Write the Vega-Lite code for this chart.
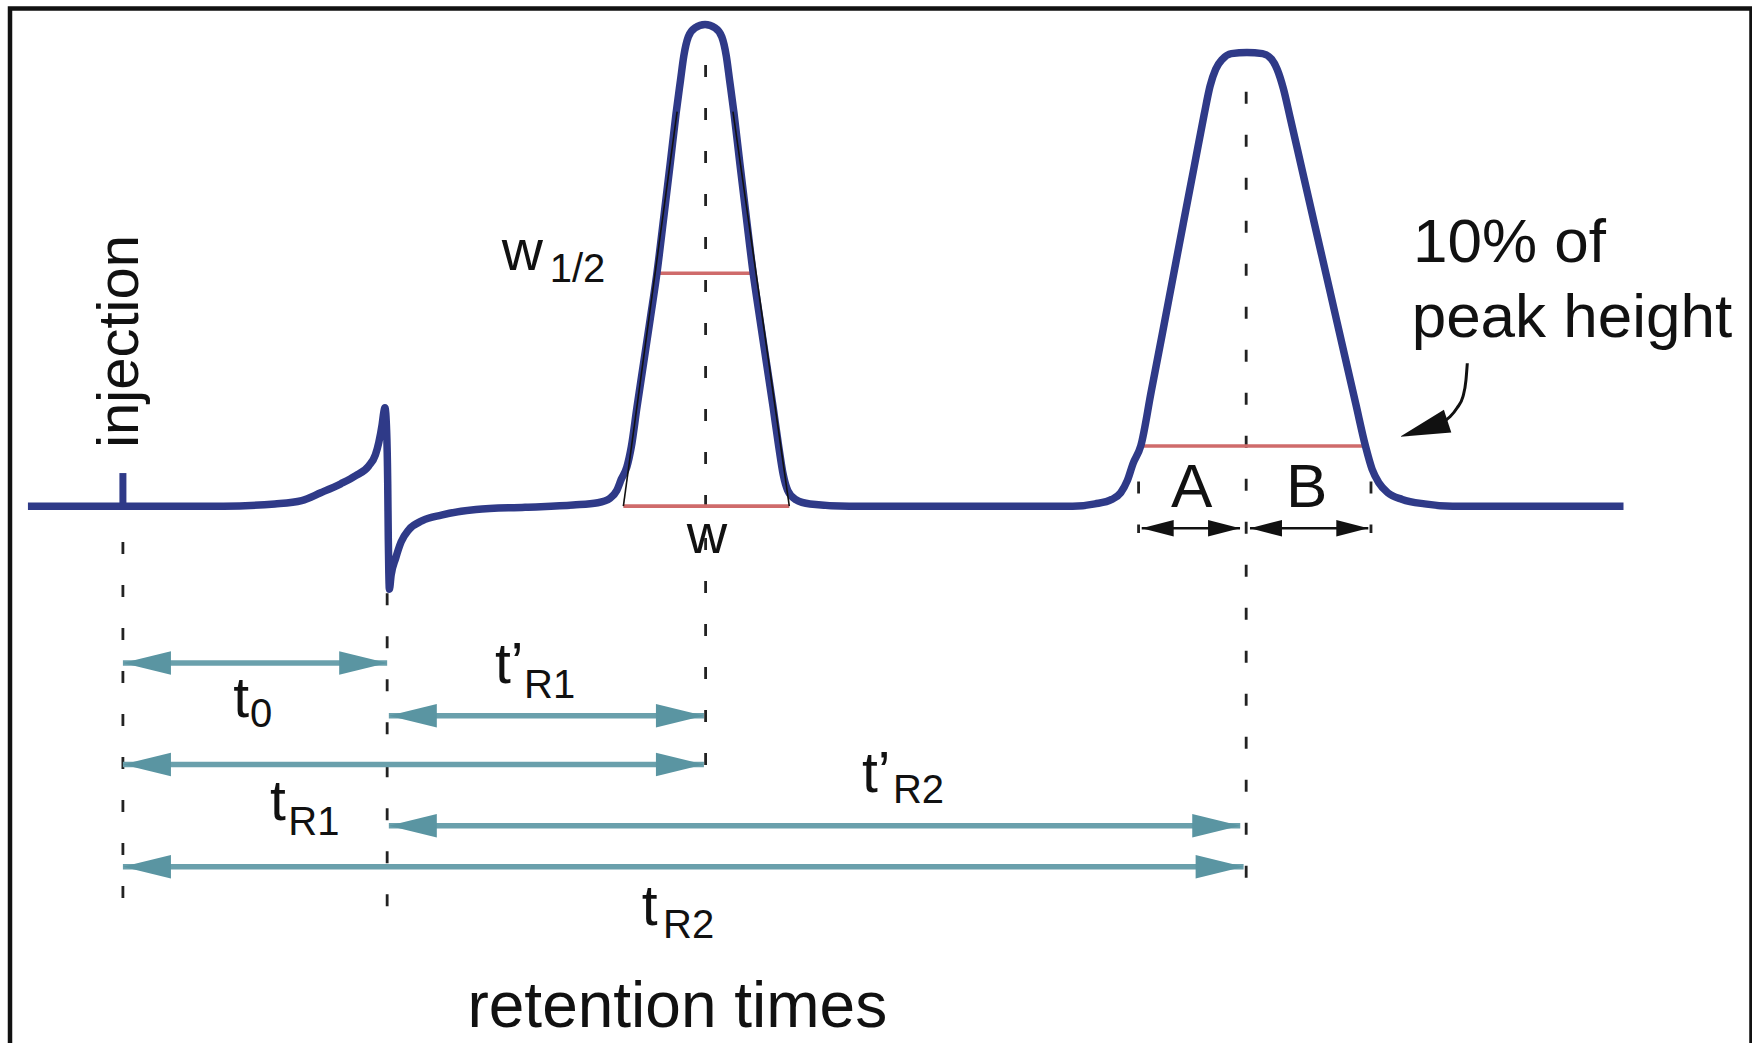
{
  "$schema": "https://vega.github.io/schema/vega-lite/v6.json",
  "width": 1752,
  "height": 1043,
  "autosize": {"type": "fit", "contains": "padding"},
  "padding": 0,
  "background": "white",
  "config": {"view": {"stroke": null}, "text": {"font": "Liberation Sans", "color": "#111111"}},
  "datasets": {
    "frame": [{"t1": -1.0105, "t2": 14.5755, "s1": 111.35, "s2": -130}],
    "curve": [
      {"i": 1, "t": -0.85, "s": 0}, {"i": 2, "t": 0.9, "s": 0}, {"i": 3, "t": 1.36, "s": 0.5},
      {"i": 4, "t": 1.6, "s": 1.25}, {"i": 5, "t": 1.77, "s": 3.0}, {"i": 6, "t": 1.95, "s": 5.0},
      {"i": 7, "t": 2.08, "s": 6.75}, {"i": 8, "t": 2.2, "s": 9.0}, {"i": 9, "t": 2.26, "s": 11.5},
      {"i": 10, "t": 2.29, "s": 14.25}, {"i": 11, "t": 2.32, "s": 18.25}, {"i": 12, "t": 2.335, "s": 21.0},
      {"i": 13, "t": 2.345, "s": 22.0}, {"i": 14, "t": 2.36, "s": 17.0}, {"i": 15, "t": 2.37, "s": 5.0},
      {"i": 16, "t": 2.375, "s": -7.0}, {"i": 17, "t": 2.38, "s": -15.0}, {"i": 18, "t": 2.385, "s": -18.6},
      {"i": 19, "t": 2.4, "s": -15.5}, {"i": 20, "t": 2.44, "s": -11.75}, {"i": 21, "t": 2.49, "s": -8.0},
      {"i": 22, "t": 2.56, "s": -5.25}, {"i": 23, "t": 2.68, "s": -3.25}, {"i": 24, "t": 2.85, "s": -2.0},
      {"i": 25, "t": 3.16, "s": -0.75}, {"i": 26, "t": 3.6, "s": -0.25}, {"i": 27, "t": 4.03, "s": 0.25},
      {"i": 28, "t": 4.25, "s": 0.75}, {"i": 29, "t": 4.36, "s": 1.75}, {"i": 30, "t": 4.42, "s": 3.5},
      {"i": 31, "t": 4.46, "s": 6.0}, {"i": 32, "t": 4.51, "s": 8.75}, {"i": 33, "t": 4.55, "s": 13.25},
      {"i": 34, "t": 4.6, "s": 22.0}, {"i": 35, "t": 4.66, "s": 32.0}, {"i": 36, "t": 4.72, "s": 42.0},
      {"i": 37, "t": 4.78, "s": 52.25}, {"i": 38, "t": 4.84, "s": 64.5}, {"i": 39, "t": 4.9, "s": 77.0},
      {"i": 40, "t": 4.95, "s": 87.75}, {"i": 41, "t": 4.99, "s": 95.25}, {"i": 42, "t": 5.02, "s": 100.75},
      {"i": 43, "t": 5.06, "s": 105.0}, {"i": 44, "t": 5.12, "s": 107.0}, {"i": 45, "t": 5.21, "s": 107.75},
      {"i": 46, "t": 5.3, "s": 107.0}, {"i": 47, "t": 5.36, "s": 105.0}, {"i": 48, "t": 5.4, "s": 100.75},
      {"i": 49, "t": 5.43, "s": 95.25}, {"i": 50, "t": 5.47, "s": 87.75}, {"i": 51, "t": 5.52, "s": 77.0},
      {"i": 52, "t": 5.58, "s": 64.5}, {"i": 53, "t": 5.64, "s": 52.25}, {"i": 54, "t": 5.7, "s": 42.0},
      {"i": 55, "t": 5.76, "s": 32.0}, {"i": 56, "t": 5.82, "s": 22.0}, {"i": 57, "t": 5.87, "s": 13.25},
      {"i": 58, "t": 5.91, "s": 7.0}, {"i": 59, "t": 5.95, "s": 3.5}, {"i": 60, "t": 6.02, "s": 1.5},
      {"i": 61, "t": 6.15, "s": 0.5}, {"i": 62, "t": 6.5, "s": 0}, {"i": 63, "t": 8.5, "s": 0},
      {"i": 64, "t": 8.7, "s": 0.5}, {"i": 65, "t": 8.85, "s": 1.5}, {"i": 66, "t": 8.93, "s": 3.0},
      {"i": 67, "t": 8.99, "s": 5.75}, {"i": 68, "t": 9.04, "s": 9.5}, {"i": 69, "t": 9.11, "s": 13.5},
      {"i": 70, "t": 9.204, "s": 25.75}, {"i": 71, "t": 9.3, "s": 38.25}, {"i": 72, "t": 9.395, "s": 50.75},
      {"i": 73, "t": 9.49, "s": 63.25}, {"i": 74, "t": 9.586, "s": 75.75}, {"i": 75, "t": 9.676, "s": 87.5},
      {"i": 76, "t": 9.73, "s": 94.0}, {"i": 77, "t": 9.78, "s": 97.75}, {"i": 78, "t": 9.84, "s": 100.0},
      {"i": 79, "t": 9.92, "s": 101.25}, {"i": 80, "t": 10.06, "s": 101.5}, {"i": 81, "t": 10.2, "s": 101.25},
      {"i": 82, "t": 10.28, "s": 100.0}, {"i": 83, "t": 10.33, "s": 97.75}, {"i": 84, "t": 10.385, "s": 93.5},
      {"i": 85, "t": 10.446, "s": 87.0}, {"i": 86, "t": 10.549, "s": 75.75}, {"i": 87, "t": 10.675, "s": 62.0},
      {"i": 88, "t": 10.797, "s": 48.75}, {"i": 89, "t": 10.927, "s": 34.5}, {"i": 90, "t": 11.035, "s": 22.75},
      {"i": 91, "t": 11.12, "s": 13.5}, {"i": 92, "t": 11.18, "s": 8.25}, {"i": 93, "t": 11.24, "s": 5.25},
      {"i": 94, "t": 11.32, "s": 3.0}, {"i": 95, "t": 11.45, "s": 1.5}, {"i": 96, "t": 11.65, "s": 0.5},
      {"i": 97, "t": 11.9, "s": 0}, {"i": 98, "t": 13.43, "s": 0}
    ],
    "injection": [{"t": 0.0, "s1": 0, "s2": 7.4}],
    "guides": [
      {"t": 0.0, "s1": -8.0, "s2": -90.0},
      {"t": 2.365, "s1": -19.5, "s2": -90.5},
      {"t": 5.215, "s1": 98.7, "s2": -58.3},
      {"t": 10.053, "s1": 92.7, "s2": -86.0},
      {"t": 9.09, "s1": 5.5, "s2": -6.0},
      {"t": 11.17, "s1": 5.5, "s2": -6.0}
    ],
    "spans": [
      {"name": "t0", "t1": 0.0, "t2": 2.365, "s": -35.1},
      {"name": "t'R1", "t1": 2.38, "t2": 5.2, "s": -46.9},
      {"name": "tR1", "t1": 0.0, "t2": 5.2, "s": -57.8},
      {"name": "t'R2", "t1": 2.38, "t2": 10.0, "s": -71.5},
      {"name": "tR2", "t1": 0.0, "t2": 10.03, "s": -80.7}
    ],
    "widths": [
      {"name": "w1/2", "t1": 4.792, "t2": 5.642, "s": 52.1},
      {"name": "w", "t1": 4.479, "t2": 5.964, "s": 0},
      {"name": "10%", "t1": 9.102, "t2": 11.116, "s": 13.45}
    ],
    "tangents": [
      {"t1": 4.479, "s1": 0, "t2": 4.96, "s2": 88.25},
      {"t1": 5.964, "s1": 0, "t2": 5.46, "s2": 88.25}
    ],
    "ab": [
      {"name": "A", "t1": 9.118, "t2": 9.998, "s": -4.95},
      {"name": "B", "t1": 10.087, "t2": 11.146, "s": -4.95}
    ],
    "pointer": [
      {"i": 1, "t": 12.032, "s": 31.97}, {"i": 2, "t": 12.02, "s": 28.2},
      {"i": 3, "t": 11.993, "s": 24.5}, {"i": 4, "t": 11.94, "s": 21.97},
      {"i": 5, "t": 11.877, "s": 20.0}, {"i": 6, "t": 11.8, "s": 18.6}
    ],
    "pointerTip": [{"t": 11.43, "s": 15.55}],
    "mainLabels": [
      {"label": "t", "t": 0.988, "s": -47.1},
      {"label": "t’", "t": 3.33, "s": -39.6},
      {"label": "t", "t": 1.316, "s": -70.2},
      {"label": "t’", "t": 6.615, "s": -63.9},
      {"label": "t", "t": 4.643, "s": -93.7},
      {"label": "w", "t": 3.39, "s": 52.85}
    ],
    "subLabels": [
      {"label": "0", "t": 1.137, "s": -49.35},
      {"label": "R1", "t": 3.59, "s": -43.0},
      {"label": "R1", "t": 1.48, "s": -73.6},
      {"label": "R2", "t": 6.892, "s": -66.5},
      {"label": "R2", "t": 4.834, "s": -96.7},
      {"label": "1/2", "t": 3.82, "s": 50.2}
    ],
    "wLabel": [{"label": "w", "t": 5.227, "s": -10.5}],
    "abLabels": [
      {"label": "A", "t": 9.565, "s": -0.18},
      {"label": "B", "t": 10.594, "s": -0.18}
    ],
    "noteLabels": [
      {"label": "10% of", "t": 11.546, "s": 54.7},
      {"label": "peak height", "t": 11.534, "s": 37.9}
    ],
    "injLabel": [{"label": "injection", "t": 0.138, "s": 36.85}],
    "axisLabel": [{"label": "retention times", "t": 4.962, "s": -116.5}]
  },
  "layer": [
    {
      "data": {"name": "frame"},
      "mark": {"type": "rect", "filled": false, "stroke": "#111111", "strokeWidth": 4.5, "clip": true},
      "encoding": {
        "x": {"field": "t1", "type": "quantitative", "scale": {"domain": [-1.1, 14.58], "nice": false, "zero": false}, "axis": null},
        "x2": {"field": "t2"},
        "y": {"field": "s1", "type": "quantitative", "scale": {"domain": [-120.125, 113.25], "nice": false, "zero": false}, "axis": null},
        "y2": {"field": "s2"}
      }
    },
    {
      "data": {"name": "guides"},
      "mark": {"type": "rule", "stroke": "#222222", "strokeWidth": 2.8, "strokeDash": [12, 31]},
      "encoding": {
        "x": {"field": "t", "type": "quantitative", "scale": {"domain": [-1.1, 14.58], "nice": false, "zero": false}, "axis": null},
        "y": {"field": "s1", "type": "quantitative", "scale": {"domain": [-120.125, 113.25], "nice": false, "zero": false}, "axis": null},
        "y2": {"field": "s2"}
      }
    },
    {
      "data": {"name": "widths"},
      "mark": {"type": "rule", "stroke": "#cf6b6b", "strokeWidth": 3.6},
      "encoding": {
        "x": {"field": "t1", "type": "quantitative", "scale": {"domain": [-1.1, 14.58], "nice": false, "zero": false}, "axis": null},
        "x2": {"field": "t2"},
        "y": {"field": "s", "type": "quantitative", "scale": {"domain": [-120.125, 113.25], "nice": false, "zero": false}, "axis": null}
      }
    },
    {
      "data": {"name": "spans"},
      "mark": {"type": "rule", "stroke": "#6aa0ac", "strokeWidth": 5.5},
      "encoding": {
        "x": {"field": "t1", "type": "quantitative", "scale": {"domain": [-1.1, 14.58], "nice": false, "zero": false}, "axis": null},
        "x2": {"field": "t2"},
        "y": {"field": "s", "type": "quantitative", "scale": {"domain": [-120.125, 113.25], "nice": false, "zero": false}, "axis": null}
      }
    },
    {
      "data": {"name": "spans"},
      "mark": {"type": "point", "shape": "M0,0L2,-0.49L2,0.49Z", "filled": true, "size": 2304, "color": "#5a95a2", "opacity": 1, "strokeWidth": 0},
      "encoding": {
        "x": {"field": "t1", "type": "quantitative", "scale": {"domain": [-1.1, 14.58], "nice": false, "zero": false}, "axis": null},
        "y": {"field": "s", "type": "quantitative", "scale": {"domain": [-120.125, 113.25], "nice": false, "zero": false}, "axis": null}
      }
    },
    {
      "data": {"name": "spans"},
      "mark": {"type": "point", "shape": "M0,0L-2,-0.49L-2,0.49Z", "filled": true, "size": 2304, "color": "#5a95a2", "opacity": 1, "strokeWidth": 0},
      "encoding": {
        "x": {"field": "t2", "type": "quantitative", "scale": {"domain": [-1.1, 14.58], "nice": false, "zero": false}, "axis": null},
        "y": {"field": "s", "type": "quantitative", "scale": {"domain": [-120.125, 113.25], "nice": false, "zero": false}, "axis": null}
      }
    },
    {
      "data": {"name": "injection"},
      "mark": {"type": "rule", "stroke": "#2f3a88", "strokeWidth": 7},
      "encoding": {
        "x": {"field": "t", "type": "quantitative", "scale": {"domain": [-1.1, 14.58], "nice": false, "zero": false}, "axis": null},
        "y": {"field": "s1", "type": "quantitative", "scale": {"domain": [-120.125, 113.25], "nice": false, "zero": false}, "axis": null},
        "y2": {"field": "s2"}
      }
    },
    {
      "data": {"name": "curve"},
      "mark": {"type": "line", "stroke": "#2f3a88", "strokeWidth": 7.5, "strokeJoin": "round", "strokeCap": "butt", "interpolate": "monotone"},
      "encoding": {
        "x": {"field": "t", "type": "quantitative", "scale": {"domain": [-1.1, 14.58], "nice": false, "zero": false}, "axis": null},
        "y": {"field": "s", "type": "quantitative", "scale": {"domain": [-120.125, 113.25], "nice": false, "zero": false}, "axis": null},
        "order": {"field": "i", "type": "quantitative"}
      }
    },
    {
      "data": {"name": "tangents"},
      "mark": {"type": "rule", "stroke": "#111111", "strokeWidth": 1.6},
      "encoding": {
        "x": {"field": "t1", "type": "quantitative", "scale": {"domain": [-1.1, 14.58], "nice": false, "zero": false}, "axis": null},
        "x2": {"field": "t2"},
        "y": {"field": "s1", "type": "quantitative", "scale": {"domain": [-120.125, 113.25], "nice": false, "zero": false}, "axis": null},
        "y2": {"field": "s2"}
      }
    },
    {
      "data": {"name": "ab"},
      "mark": {"type": "rule", "stroke": "#111111", "strokeWidth": 2.5},
      "encoding": {
        "x": {"field": "t1", "type": "quantitative", "scale": {"domain": [-1.1, 14.58], "nice": false, "zero": false}, "axis": null},
        "x2": {"field": "t2"},
        "y": {"field": "s", "type": "quantitative", "scale": {"domain": [-120.125, 113.25], "nice": false, "zero": false}, "axis": null}
      }
    },
    {
      "data": {"name": "ab"},
      "mark": {"type": "point", "shape": "M0,0L2,-0.52L2,0.52Z", "filled": true, "size": 1024, "color": "#111111", "opacity": 1, "strokeWidth": 0},
      "encoding": {
        "x": {"field": "t1", "type": "quantitative", "scale": {"domain": [-1.1, 14.58], "nice": false, "zero": false}, "axis": null},
        "y": {"field": "s", "type": "quantitative", "scale": {"domain": [-120.125, 113.25], "nice": false, "zero": false}, "axis": null}
      }
    },
    {
      "data": {"name": "ab"},
      "mark": {"type": "point", "shape": "M0,0L-2,-0.52L-2,0.52Z", "filled": true, "size": 1024, "color": "#111111", "opacity": 1, "strokeWidth": 0},
      "encoding": {
        "x": {"field": "t2", "type": "quantitative", "scale": {"domain": [-1.1, 14.58], "nice": false, "zero": false}, "axis": null},
        "y": {"field": "s", "type": "quantitative", "scale": {"domain": [-120.125, 113.25], "nice": false, "zero": false}, "axis": null}
      }
    },
    {
      "data": {"name": "pointer"},
      "mark": {"type": "line", "stroke": "#111111", "strokeWidth": 3, "interpolate": "monotone"},
      "encoding": {
        "x": {"field": "t", "type": "quantitative", "scale": {"domain": [-1.1, 14.58], "nice": false, "zero": false}, "axis": null},
        "y": {"field": "s", "type": "quantitative", "scale": {"domain": [-120.125, 113.25], "nice": false, "zero": false}, "axis": null},
        "order": {"field": "i", "type": "quantitative"}
      }
    },
    {
      "data": {"name": "pointerTip"},
      "mark": {"type": "point", "shape": "M0,0L-2,-0.48L-2,0.48Z", "filled": true, "size": 2500, "angle": 162, "color": "#111111", "opacity": 1, "strokeWidth": 0},
      "encoding": {
        "x": {"field": "t", "type": "quantitative", "scale": {"domain": [-1.1, 14.58], "nice": false, "zero": false}, "axis": null},
        "y": {"field": "s", "type": "quantitative", "scale": {"domain": [-120.125, 113.25], "nice": false, "zero": false}, "axis": null}
      }
    },
    {
      "data": {"name": "mainLabels"},
      "mark": {"type": "text", "fontSize": 57, "align": "left", "baseline": "alphabetic"},
      "encoding": {
        "x": {"field": "t", "type": "quantitative", "scale": {"domain": [-1.1, 14.58], "nice": false, "zero": false}, "axis": null},
        "y": {"field": "s", "type": "quantitative", "scale": {"domain": [-120.125, 113.25], "nice": false, "zero": false}, "axis": null},
        "text": {"field": "label"}
      }
    },
    {
      "data": {"name": "subLabels"},
      "mark": {"type": "text", "fontSize": 40, "align": "left", "baseline": "alphabetic"},
      "encoding": {
        "x": {"field": "t", "type": "quantitative", "scale": {"domain": [-1.1, 14.58], "nice": false, "zero": false}, "axis": null},
        "y": {"field": "s", "type": "quantitative", "scale": {"domain": [-120.125, 113.25], "nice": false, "zero": false}, "axis": null},
        "text": {"field": "label"}
      }
    },
    {
      "data": {"name": "wLabel"},
      "mark": {"type": "text", "fontSize": 56, "align": "center", "baseline": "alphabetic"},
      "encoding": {
        "x": {"field": "t", "type": "quantitative", "scale": {"domain": [-1.1, 14.58], "nice": false, "zero": false}, "axis": null},
        "y": {"field": "s", "type": "quantitative", "scale": {"domain": [-120.125, 113.25], "nice": false, "zero": false}, "axis": null},
        "text": {"field": "label"}
      }
    },
    {
      "data": {"name": "abLabels"},
      "mark": {"type": "text", "fontSize": 62, "align": "center", "baseline": "alphabetic"},
      "encoding": {
        "x": {"field": "t", "type": "quantitative", "scale": {"domain": [-1.1, 14.58], "nice": false, "zero": false}, "axis": null},
        "y": {"field": "s", "type": "quantitative", "scale": {"domain": [-120.125, 113.25], "nice": false, "zero": false}, "axis": null},
        "text": {"field": "label"}
      }
    },
    {
      "data": {"name": "noteLabels"},
      "mark": {"type": "text", "fontSize": 62, "align": "left", "baseline": "alphabetic"},
      "encoding": {
        "x": {"field": "t", "type": "quantitative", "scale": {"domain": [-1.1, 14.58], "nice": false, "zero": false}, "axis": null},
        "y": {"field": "s", "type": "quantitative", "scale": {"domain": [-120.125, 113.25], "nice": false, "zero": false}, "axis": null},
        "text": {"field": "label"}
      }
    },
    {
      "data": {"name": "injLabel"},
      "mark": {"type": "text", "fontSize": 58, "align": "center", "baseline": "alphabetic", "angle": 270},
      "encoding": {
        "x": {"field": "t", "type": "quantitative", "scale": {"domain": [-1.1, 14.58], "nice": false, "zero": false}, "axis": null},
        "y": {"field": "s", "type": "quantitative", "scale": {"domain": [-120.125, 113.25], "nice": false, "zero": false}, "axis": null},
        "text": {"field": "label"}
      }
    },
    {
      "data": {"name": "axisLabel"},
      "mark": {"type": "text", "fontSize": 64, "align": "center", "baseline": "alphabetic"},
      "encoding": {
        "x": {"field": "t", "type": "quantitative", "scale": {"domain": [-1.1, 14.58], "nice": false, "zero": false}, "axis": null},
        "y": {"field": "s", "type": "quantitative", "scale": {"domain": [-120.125, 113.25], "nice": false, "zero": false}, "axis": null},
        "text": {"field": "label"}
      }
    }
  ]
}
